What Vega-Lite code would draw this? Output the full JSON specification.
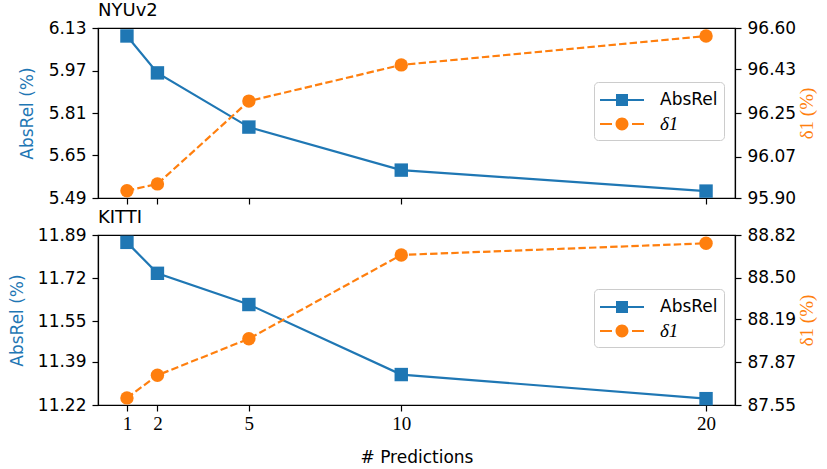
{
  "$schema": "https://vega.github.io/schema/vega-lite/v6.json",
  "background": "white",
  "padding": {"left": 7, "top": 1, "right": 5, "bottom": 2},
  "datasets": {
    "nyu": [
      {"n": 1, "metric": "AbsRel", "value": 6.100},
      {"n": 2, "metric": "AbsRel", "value": 5.961},
      {"n": 5, "metric": "AbsRel", "value": 5.757},
      {"n": 10, "metric": "AbsRel", "value": 5.595},
      {"n": 20, "metric": "AbsRel", "value": 5.516},
      {"n": 1, "metric": "δ1", "value": 95.930},
      {"n": 2, "metric": "δ1", "value": 95.958},
      {"n": 5, "metric": "δ1", "value": 96.299},
      {"n": 10, "metric": "δ1", "value": 96.448},
      {"n": 20, "metric": "δ1", "value": 96.567}
    ],
    "kitti": [
      {"n": 1, "metric": "AbsRel", "value": 11.861},
      {"n": 2, "metric": "AbsRel", "value": 11.739},
      {"n": 5, "metric": "AbsRel", "value": 11.616},
      {"n": 10, "metric": "AbsRel", "value": 11.340},
      {"n": 20, "metric": "AbsRel", "value": 11.245},
      {"n": 1, "metric": "δ1", "value": 87.603},
      {"n": 2, "metric": "δ1", "value": 87.772},
      {"n": 5, "metric": "δ1", "value": 88.045},
      {"n": 10, "metric": "δ1", "value": 88.671},
      {"n": 20, "metric": "δ1", "value": 88.758}
    ]
  },
  "spacing": 1,
  "vconcat": [
    {
      "width": 637,
      "height": 170,
      "title": {"text": "NYUv2", "anchor": "start", "frame": "group", "fontSize": 18, "font": "DejaVu Sans", "fontWeight": "normal", "offset": -1, "color": "black"},
      "data": {"name": "nyu"},
      "layer": [
        {
          "transform": [{"filter": "datum.metric === 'AbsRel'"}],
          "mark": {"type": "line", "strokeWidth": 2.2, "color": "#1f77b4", "point": {"shape": "square", "size": 180, "filled": true, "opacity": 1, "color": "#1f77b4"}},
          "encoding": {
            "x": {"field": "n", "type": "quantitative", "scale": {"domain": [0.05, 20.95], "nice": false, "zero": false},
                  "axis": {"values": [1, 2, 5, 10, 20], "labels": false, "title": null}},
            "y": {"field": "value", "type": "quantitative", "scale": {"domain": [5.49, 6.13], "nice": false, "zero": false},
                  "axis": {"orient": "left", "values": [5.49, 5.65, 5.81, 5.97, 6.13], "format": ".2f", "title": "AbsRel (%)", "titleColor": "#1f77b4", "titlePadding": 12}}
          }
        },
        {
          "transform": [{"filter": "datum.metric === 'δ1'"}],
          "mark": {"type": "line", "strokeWidth": 2.2, "strokeDash": [7.4, 3.2], "color": "#ff7f0e", "point": {"shape": "circle", "size": 180, "filled": true, "opacity": 1, "color": "#ff7f0e"}},
          "encoding": {
            "x": {"field": "n", "type": "quantitative", "scale": {"domain": [0.05, 20.95], "nice": false, "zero": false},
                  "axis": {"values": [1, 2, 5, 10, 20], "labels": false, "title": null}},
            "y": {"field": "value", "type": "quantitative", "scale": {"domain": [95.90, 96.60], "nice": false, "zero": false},
                  "axis": {"orient": "right", "values": [95.90, 96.07, 96.25, 96.43, 96.60], "format": ".2f", "title": "δ1 (%)", "titleColor": "#ff7f0e", "titleFont": "Liberation Serif", "titleFontSize": 19, "titleAngle": 270, "titleBaseline": "top", "titlePadding": 2}}
          }
        },
        {
          "mark": {"type": "point", "filled": true, "opacity": 0},
          "encoding": {
            "color": {"field": "metric", "type": "nominal", "scale": {"domain": ["AbsRel", "δ1"], "range": ["#1f77b4", "#ff7f0e"]},
                      "legend": {"title": null, "orient": "none", "legendX": 496, "legendY": 54, "symbolOpacity": 1, "symbolSize": 576, "symbolStrokeWidth": 0, "labelOffset": 36, "rowPadding": 4, "padding": 6, "labelFontSize": 17, "labelFont": "DejaVu Sans", "labelColor": "black", "fillColor": "white", "strokeColor": "#cccccc", "cornerRadius": 4,
                                 "encode": {"labels": {"update": {"font": {"signal": "datum.label === 'δ1' ? 'Liberation Serif' : 'DejaVu Sans'"}, "fontSize": {"signal": "datum.label === 'δ1' ? 19 : 17"}, "fontStyle": {"signal": "datum.label === 'δ1' ? 'italic' : 'normal'"}}}}}},
            "shape": {"field": "metric", "type": "nominal", "scale": {"domain": ["AbsRel", "δ1"], "range": ["M-1,-0.09H2.667V0.09H-1Z M0.333,-0.5H1.333V0.5H0.333Z", "M-1,-0.09H0V0.09H-1Z M1.667,-0.09H2.667V0.09H1.667Z M0.293,0A0.54,0.54 0 1,1 1.373,0A0.54,0.54 0 1,1 0.293,0Z"]},
                      "legend": {"title": null, "orient": "none", "legendX": 496, "legendY": 54, "symbolOpacity": 1, "symbolSize": 576, "symbolStrokeWidth": 0, "labelOffset": 36, "rowPadding": 4, "padding": 6, "labelFontSize": 17, "labelFont": "DejaVu Sans", "labelColor": "black", "fillColor": "white", "strokeColor": "#cccccc", "cornerRadius": 4,
                                 "encode": {"labels": {"update": {"font": {"signal": "datum.label === 'δ1' ? 'Liberation Serif' : 'DejaVu Sans'"}, "fontSize": {"signal": "datum.label === 'δ1' ? 19 : 17"}, "fontStyle": {"signal": "datum.label === 'δ1' ? 'italic' : 'normal'"}}}}}}
          }
        }
      ],
      "resolve": {"scale": {"y": "independent"}}
    },
    {
      "width": 637,
      "height": 170,
      "title": {"text": "KITTI", "anchor": "start", "frame": "group", "fontSize": 18, "font": "DejaVu Sans", "fontWeight": "normal", "offset": -1, "color": "black"},
      "data": {"name": "kitti"},
      "layer": [
        {
          "transform": [{"filter": "datum.metric === 'AbsRel'"}],
          "mark": {"type": "line", "strokeWidth": 2.2, "color": "#1f77b4", "point": {"shape": "square", "size": 180, "filled": true, "opacity": 1, "color": "#1f77b4"}},
          "encoding": {
            "x": {"field": "n", "type": "quantitative", "scale": {"domain": [0.05, 20.95], "nice": false, "zero": false},
                  "axis": {"values": [1, 2, 5, 10, 20], "title": "# Predictions", "labelFont": "Liberation Serif", "labelFontSize": 19, "labelPadding": 3, "titlePadding": 16}},
            "y": {"field": "value", "type": "quantitative", "scale": {"domain": [11.22, 11.89], "nice": false, "zero": false},
                  "axis": {"orient": "left", "values": [11.22, 11.39, 11.55, 11.72, 11.89], "format": ".2f", "title": "AbsRel (%)", "titleColor": "#1f77b4", "titlePadding": 11}}
          }
        },
        {
          "transform": [{"filter": "datum.metric === 'δ1'"}],
          "mark": {"type": "line", "strokeWidth": 2.2, "strokeDash": [7.4, 3.2], "color": "#ff7f0e", "point": {"shape": "circle", "size": 180, "filled": true, "opacity": 1, "color": "#ff7f0e"}},
          "encoding": {
            "x": {"field": "n", "type": "quantitative", "scale": {"domain": [0.05, 20.95], "nice": false, "zero": false},
                  "axis": {"values": [1, 2, 5, 10, 20], "title": "# Predictions", "labelFont": "Liberation Serif", "labelFontSize": 19, "labelPadding": 3, "titlePadding": 16}},
            "y": {"field": "value", "type": "quantitative", "scale": {"domain": [87.55, 88.82], "nice": false, "zero": false},
                  "axis": {"orient": "right", "values": [87.55, 87.87, 88.19, 88.50, 88.82], "format": ".2f", "title": "δ1 (%)", "titleColor": "#ff7f0e", "titleFont": "Liberation Serif", "titleFontSize": 19, "titleAngle": 270, "titleBaseline": "top", "titlePadding": 2}}
          }
        },
        {
          "mark": {"type": "point", "filled": true, "opacity": 0},
          "encoding": {
            "color": {"field": "metric", "type": "nominal", "scale": {"domain": ["AbsRel", "δ1"], "range": ["#1f77b4", "#ff7f0e"]},
                      "legend": {"title": null, "orient": "none", "legendX": 496, "legendY": 54, "symbolOpacity": 1, "symbolSize": 576, "symbolStrokeWidth": 0, "labelOffset": 36, "rowPadding": 4, "padding": 6, "labelFontSize": 17, "labelFont": "DejaVu Sans", "labelColor": "black", "fillColor": "white", "strokeColor": "#cccccc", "cornerRadius": 4,
                                 "encode": {"labels": {"update": {"font": {"signal": "datum.label === 'δ1' ? 'Liberation Serif' : 'DejaVu Sans'"}, "fontSize": {"signal": "datum.label === 'δ1' ? 19 : 17"}, "fontStyle": {"signal": "datum.label === 'δ1' ? 'italic' : 'normal'"}}}}}},
            "shape": {"field": "metric", "type": "nominal", "scale": {"domain": ["AbsRel", "δ1"], "range": ["M-1,-0.09H2.667V0.09H-1Z M0.333,-0.5H1.333V0.5H0.333Z", "M-1,-0.09H0V0.09H-1Z M1.667,-0.09H2.667V0.09H1.667Z M0.293,0A0.54,0.54 0 1,1 1.373,0A0.54,0.54 0 1,1 0.293,0Z"]},
                      "legend": {"title": null, "orient": "none", "legendX": 496, "legendY": 54, "symbolOpacity": 1, "symbolSize": 576, "symbolStrokeWidth": 0, "labelOffset": 36, "rowPadding": 4, "padding": 6, "labelFontSize": 17, "labelFont": "DejaVu Sans", "labelColor": "black", "fillColor": "white", "strokeColor": "#cccccc", "cornerRadius": 4,
                                 "encode": {"labels": {"update": {"font": {"signal": "datum.label === 'δ1' ? 'Liberation Serif' : 'DejaVu Sans'"}, "fontSize": {"signal": "datum.label === 'δ1' ? 19 : 17"}, "fontStyle": {"signal": "datum.label === 'δ1' ? 'italic' : 'normal'"}}}}}}
          }
        }
      ],
      "resolve": {"scale": {"y": "independent"}}
    }
  ],
  "resolve": {"scale": {"color": "independent", "shape": "independent"}, "legend": {"color": "independent", "shape": "independent"}},
  "config": {
    "view": {"stroke": "black", "strokeWidth": 1.2},
    "axis": {"domainColor": "black", "domainWidth": 1.2, "tickColor": "black", "tickWidth": 1.2, "tickSize": 6, "labelPadding": 6, "labelColor": "black", "grid": false,
             "labelFont": "DejaVu Sans", "labelFontSize": 17, "titleFont": "DejaVu Sans", "titleFontSize": 17, "titleFontWeight": "normal", "titleColor": "black"}
  }
}
